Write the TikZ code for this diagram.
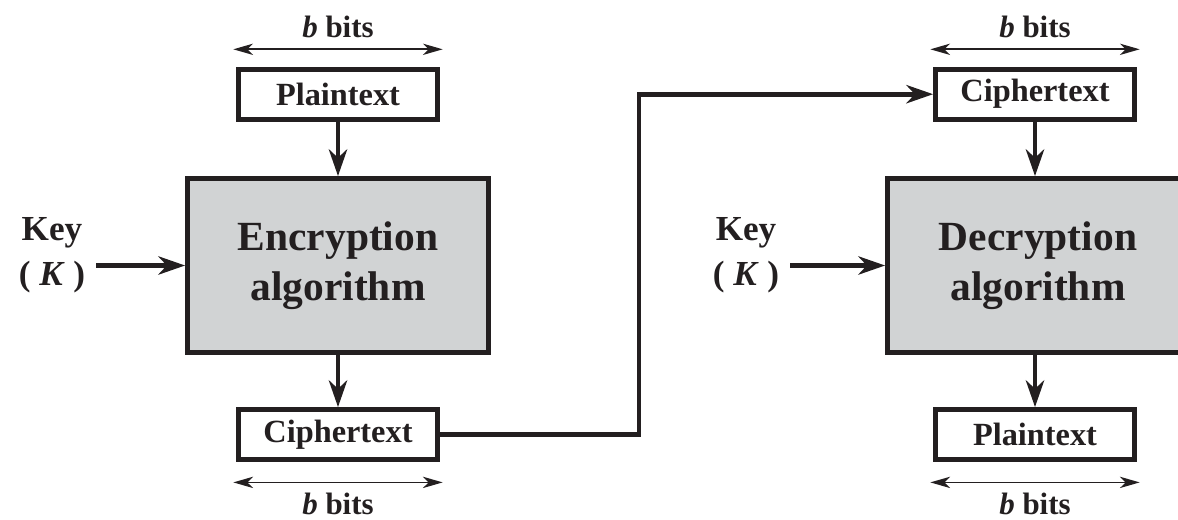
\documentclass[tikz,border=0pt]{standalone}
\usepackage{fontspec}
\setmainfont{Liberation Serif}
\usetikzlibrary{arrows.meta}
\definecolor{ink}{RGB}{35,31,32}
\definecolor{algfill}{RGB}{209,211,212}

\begin{document}
\begin{tikzpicture}[
  box/.style={draw=ink, line width=3.4pt, fill=white, minimum width=4.975cm, minimum height=1.25cm, inner sep=0pt, font=\fontsize{23}{27}\selectfont\bfseries, text=ink},
  algbox/.style={draw=ink, line width=3.4pt, fill=algfill, minimum width=7.525cm, minimum height=4.35cm, align=center, font=\fontsize{29.5}{35.6}\selectfont\bfseries, text=ink},
  keylabel/.style={align=center, font=\fontsize{25}{32}\selectfont\bfseries, text=ink},
  bitslabel/.style={font=\fontsize{22}{26}\selectfont\bfseries, text=ink},
  flow/.style={draw=ink, line width=3.4pt, -{Stealth[length=19pt, width=13pt, inset=6pt]}},
  bitspan/.style={draw=ink, line width=1.2pt, {Stealth[length=14pt, width=8pt, inset=4pt]}-{Stealth[length=14pt, width=8pt, inset=4pt]}}
]
  \useasboundingbox (0,0) rectangle (29.45,12.975);
  % encryption side
  \node[bitslabel] (bitsA) at (8.45,12.3) {\textit{b} bits};
  \node[box] (ptA) at (8.45,10.62) {Plaintext};
  \node[algbox] (enc) at (8.45,6.3375) {Encryption\\algorithm};
  \node[box] (ctA) at (8.45,2.1125) {Ciphertext};
  \node[bitslabel] (bitsB) at (8.45,0.38) {\textit{b} bits};
  \node[keylabel] (keyA) at (1.3,6.6) {Key\\( \textit{K} )};
  \draw[bitspan] ([xshift=-0.07cm, yshift=0.4375cm]ptA.north west) -- ([xshift=0.07cm, yshift=0.4375cm]ptA.north east);
  \draw[bitspan] ([xshift=-0.07cm, yshift=-0.5125cm]ctA.south west) -- ([xshift=0.07cm, yshift=-0.5125cm]ctA.south east);
  \draw[flow] (ptA) -- (enc);
  \draw[flow] (enc) -- (ctA);
  \draw[flow] ([xshift=0.15cm]keyA.east |- enc) -- (enc.west);
  % decryption side
  \node[bitslabel] (bitsC) at (25.875,12.3) {\textit{b} bits};
  \node[box] (ctB) at (25.875,10.62) {Ciphertext};
  \node[algbox] (dec) at (25.95,6.3375) {Decryption\\algorithm};
  \node[box] (ptB) at (25.875,2.1125) {Plaintext};
  \node[bitslabel] (bitsD) at (25.875,0.38) {\textit{b} bits};
  \node[keylabel] (keyB) at (18.65,6.6) {Key\\( \textit{K} )};
  \draw[bitspan] ([xshift=-0.07cm, yshift=0.4375cm]ctB.north west) -- ([xshift=0.07cm, yshift=0.4375cm]ctB.north east);
  \draw[bitspan] ([xshift=-0.07cm, yshift=-0.5125cm]ptB.south west) -- ([xshift=0.07cm, yshift=-0.5125cm]ptB.south east);
  \draw[flow] (ctB) -- (ctB |- dec.north);
  \draw[flow] (ptB |- dec.south) -- (ptB);
  \draw[flow] ([xshift=0.15cm]keyB.east |- dec) -- (dec.west);
  % link between the two sides
  \coordinate (bend) at (15.975,10.62);
  \draw[flow] (ctA.east) -| (bend) -- (ctB.west);
\end{tikzpicture}
\end{document}
